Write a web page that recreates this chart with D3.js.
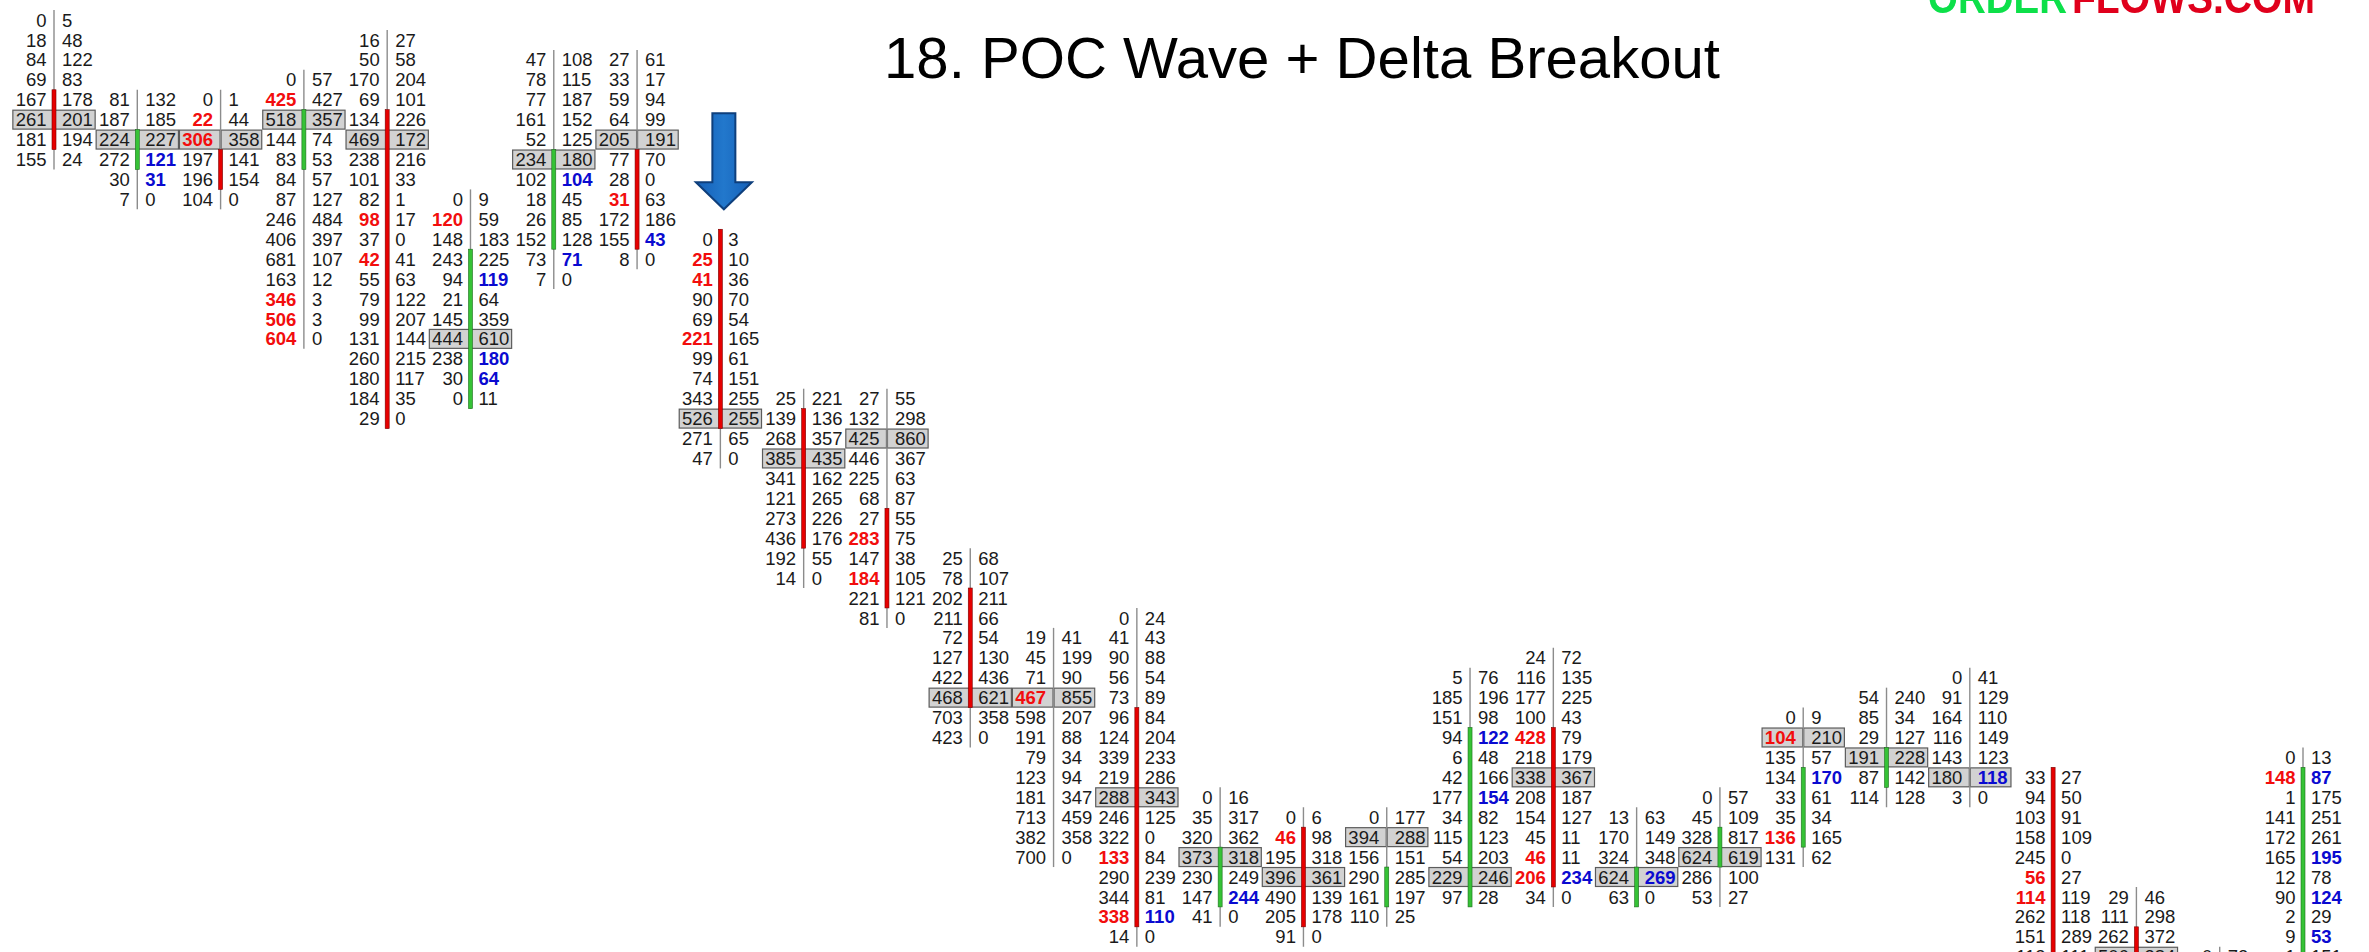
<!DOCTYPE html>
<html>
<head>
<meta charset="utf-8">
<script src="https://cdn.jsdelivr.net/npm/d3@7"></script>
<style>
  html, body { margin: 0; padding: 0; background: #fff; overflow: hidden; }
  svg { display: block; }
</style>
</head>
<body>
<svg id="chart" width="2369" height="952"></svg>
<script>
// Footprint candles: each candle has a first price row (counted from the top
// of the ladder), bid volumes on the left and ask volumes on the right.
const candleIds = d3.range(28);

const topRow = [0, 4, 4, 3, 1, 9, 2, 2, 11, 19, 19, 27, 31, 30, 39, 40, 40, 33, 32, 40, 39, 35, 34, 33, 38, 44, 47, 37];

const bidVolume = [
  [0, 18, 84, 69, 167, 261, 181, 155],
  [81, 187, 224, 272, 30, 7],
  [0, 22, 306, 197, 196, 104],
  [0, 425, 518, 144, 83, 84, 87, 246, 406, 681, 163, 346, 506, 604],
  [16, 50, 170, 69, 134, 469, 238, 101, 82, 98, 37, 42, 55, 79, 99, 131, 260, 180, 184, 29],
  [0, 120, 148, 243, 94, 21, 145, 444, 238, 30, 0],
  [47, 78, 77, 161, 52, 234, 102, 18, 26, 152, 73, 7],
  [27, 33, 59, 64, 205, 77, 28, 31, 172, 155, 8],
  [0, 25, 41, 90, 69, 221, 99, 74, 343, 526, 271, 47],
  [25, 139, 268, 385, 341, 121, 273, 436, 192, 14],
  [27, 132, 425, 446, 225, 68, 27, 283, 147, 184, 221, 81],
  [25, 78, 202, 211, 72, 127, 422, 468, 703, 423],
  [19, 45, 71, 467, 598, 191, 79, 123, 181, 713, 382, 700],
  [0, 41, 90, 56, 73, 96, 124, 339, 219, 288, 246, 322, 133, 290, 344, 338, 14],
  [0, 35, 320, 373, 230, 147, 41],
  [0, 46, 195, 396, 490, 205, 91],
  [0, 394, 156, 290, 161, 110],
  [5, 185, 151, 94, 6, 42, 177, 34, 115, 54, 229, 97],
  [24, 116, 177, 100, 428, 218, 338, 208, 154, 45, 46, 206, 34],
  [13, 170, 324, 624, 63],
  [0, 45, 328, 624, 286, 53],
  [0, 104, 135, 134, 33, 35, 136, 131],
  [54, 85, 29, 191, 87, 114],
  [0, 91, 164, 116, 143, 180, 3],
  [33, 94, 103, 158, 245, 56, 114, 262, 151, 113],
  [29, 111, 262, 506],
  [0],
  [0, 148, 1, 141, 172, 165, 12, 90, 2, 9, 1]
];

const askVolume = [
  [5, 48, 122, 83, 178, 201, 194, 24],
  [132, 185, 227, 121, 31, 0],
  [1, 44, 358, 141, 154, 0],
  [57, 427, 357, 74, 53, 57, 127, 484, 397, 107, 12, 3, 3, 0],
  [27, 58, 204, 101, 226, 172, 216, 33, 1, 17, 0, 41, 63, 122, 207, 144, 215, 117, 35, 0],
  [9, 59, 183, 225, 119, 64, 359, 610, 180, 64, 11],
  [108, 115, 187, 152, 125, 180, 104, 45, 85, 128, 71, 0],
  [61, 17, 94, 99, 191, 70, 0, 63, 186, 43, 0],
  [3, 10, 36, 70, 54, 165, 61, 151, 255, 255, 65, 0],
  [221, 136, 357, 435, 162, 265, 226, 176, 55, 0],
  [55, 298, 860, 367, 63, 87, 55, 75, 38, 105, 121, 0],
  [68, 107, 211, 66, 54, 130, 436, 621, 358, 0],
  [41, 199, 90, 855, 207, 88, 34, 94, 347, 459, 358, 0],
  [24, 43, 88, 54, 89, 84, 204, 233, 286, 343, 125, 0, 84, 239, 81, 110, 0],
  [16, 317, 362, 318, 249, 244, 0],
  [6, 98, 318, 361, 139, 178, 0],
  [177, 288, 151, 285, 197, 25],
  [76, 196, 98, 122, 48, 166, 154, 82, 123, 203, 246, 28],
  [72, 135, 225, 43, 79, 179, 367, 187, 127, 11, 11, 234, 0],
  [63, 149, 348, 269, 0],
  [57, 109, 817, 619, 100, 27],
  [9, 210, 57, 170, 61, 34, 165, 62],
  [240, 34, 127, 228, 142, 128],
  [41, 129, 110, 149, 123, 118, 0],
  [27, 50, 91, 109, 0, 27, 119, 118, 289, 111],
  [46, 298, 372, 384],
  [73],
  [13, 87, 175, 251, 261, 195, 78, 124, 29, 53, 151]
];

// Point-of-control row of each candle (null when it is not on screen).
const pocRow = [5, 6, 6, 5, 6, 16, 7, 6, 20, 22, 21, 34, 34, 39, 42, 43, 41, 43, 38, 43, 42, 36, 37, 38, null, 47, null, null];

// Candle bodies: first and last row, and direction.
const bodyStart = [4, 6, 7, 5, 5, 12, 7, 7, 11, 20, 25, 29, null, 35, 42, 41, 43, 36, 36, 43, 41, 38, 37, null, 38, 46, null, 38];
const bodyEnd   = [6, 7, 8, 7, 20, 19, 11, 11, 20, 26, 29, 34, null, 45, 44, 45, 44, 44, 43, 44, 42, 41, 38, null, 48, 48, null, 48];
const bodyDir   = ["down", "up", "down", "up", "down", "up", "up", "down", "down", "down", "down", "down", null,
                   "down", "up", "down", "up", "up", "down", "up", "up", "up", "up", null, "down", "down", null, "up"];

// Imbalance cells: [candle, row]
const sellImbalance = [
  [2, 5], [2, 6], [3, 4], [3, 14], [3, 15], [3, 16], [4, 10], [4, 12], [5, 10], [7, 9],
  [8, 12], [8, 13], [8, 16], [10, 26], [10, 28], [12, 34], [13, 42], [13, 45], [15, 41],
  [18, 36], [18, 42], [18, 43], [21, 36], [21, 41], [24, 43], [24, 44], [27, 38]
];
const buyImbalance = [
  [1, 7], [1, 8], [5, 13], [5, 17], [5, 18], [6, 8], [6, 12], [7, 11], [13, 45], [14, 44],
  [17, 36], [17, 39], [18, 43], [19, 43], [21, 38], [23, 38], [27, 38], [27, 42], [27, 44], [27, 46]
];

const titleText = "18. POC Wave + Delta Breakout";
const brandParts = ["ORDER", "FLOWS.COM"];

// ---------------------------------------------------------------------------
const svg = d3.select("#chart");
const W = 2369, H = 952;

const x = d3.scaleLinear().domain([0, 27]).range([54, 2303]);
const y = d3.scaleLinear().domain([0, 46]).range([20, 936.8]);
const rowH = y(1) - y(0);
const cellW = (x(1) - x(0)) / 2;

const sellSet = new Set(sellImbalance.map(d => d.join(",")));
const buySet = new Set(buyImbalance.map(d => d.join(",")));

const cells = [];
candleIds.forEach(i => {
  bidVolume[i].forEach((b, j) => {
    cells.push({ c: i, row: topRow[i] + j, bid: b, ask: askVolume[i][j] });
  });
});

const colours = {
  text: "#1a1a1a", red: "#f20d0d", blue: "#0a0ad0",
  up: "#36c236", upEdge: "#1d6e1d", down: "#e60000", downEdge: "#7a0000",
  wick: "#8c8c8c", poc: "#d2d2d2", pocEdge: "#5c5c5c"
};

// POC boxes
const pocCells = cells.filter(d => pocRow[d.c] === d.row);
const pocG = svg.append("g");
pocG.selectAll("rect.l").data(pocCells).join("rect")
  .attr("x", d => x(d.c) - cellW + 0.5).attr("y", d => y(d.row) - rowH / 2 + 0.5)
  .attr("width", cellW - 1).attr("height", rowH - 1)
  .attr("fill", colours.poc).attr("stroke", colours.pocEdge).attr("stroke-width", 1.2);
pocG.selectAll("rect.r").data(pocCells).join("rect")
  .attr("x", d => x(d.c) + 0.5).attr("y", d => y(d.row) - rowH / 2 + 0.5)
  .attr("width", cellW - 1).attr("height", rowH - 1)
  .attr("fill", colours.poc).attr("stroke", colours.pocEdge).attr("stroke-width", 1.2);

// Thin range line through each candle
svg.append("g").selectAll("line").data(candleIds).join("line")
  .attr("x1", i => x(i)).attr("x2", i => x(i))
  .attr("y1", i => y(topRow[i]) - rowH / 2)
  .attr("y2", i => y(topRow[i] + bidVolume[i].length - 1) + rowH / 2)
  .attr("stroke", colours.wick).attr("stroke-width", 1.4);

// Candle bodies
const bodies = candleIds.filter(i => bodyDir[i]);
svg.append("g").selectAll("rect").data(bodies).join("rect")
  .attr("x", i => x(i) - 2).attr("width", 4)
  .attr("y", i => y(bodyStart[i]) - rowH / 2)
  .attr("height", i => y(bodyEnd[i]) - y(bodyStart[i]) + rowH)
  .attr("fill", i => bodyDir[i] === "up" ? colours.up : colours.down)
  .attr("stroke", i => bodyDir[i] === "up" ? colours.upEdge : colours.downEdge)
  .attr("stroke-width", 0.6);

// Volume numbers
const txt = svg.append("g")
  .attr("font-family", "'Liberation Sans', Arial, Helvetica, sans-serif")
  .attr("font-size", 18.5);

txt.selectAll("text.bid").data(cells).join("text")
  .attr("x", d => x(d.c) - 7.5).attr("y", d => y(d.row) + 6.6)
  .attr("text-anchor", "end")
  .attr("font-weight", d => sellSet.has(d.c + "," + d.row) ? "bold" : "normal")
  .attr("fill", d => sellSet.has(d.c + "," + d.row) ? colours.red : colours.text)
  .text(d => d.bid);

txt.selectAll("text.ask").data(cells).join("text")
  .attr("x", d => x(d.c) + 8).attr("y", d => y(d.row) + 6.6)
  .attr("text-anchor", "start")
  .attr("font-weight", d => buySet.has(d.c + "," + d.row) ? "bold" : "normal")
  .attr("fill", d => buySet.has(d.c + "," + d.row) ? colours.blue : colours.text)
  .text(d => d.ask);

// Signal arrow above candle 8
const ax = x(8) + 3.5, tipY = y(9.5);
const arrowPts = [
  [ax - 11.5, tipY - 96], [ax + 11.5, tipY - 96], [ax + 11.5, tipY - 27],
  [ax + 28, tipY - 27], [ax, tipY], [ax - 28, tipY - 27], [ax - 11.5, tipY - 27]
];
const grad = svg.append("defs").append("linearGradient").attr("id", "arrowFill")
  .attr("x1", 0).attr("x2", 1).attr("y1", 0).attr("y2", 0);
grad.append("stop").attr("offset", "0%").attr("stop-color", "#1560b8");
grad.append("stop").attr("offset", "50%").attr("stop-color", "#2278cc");
grad.append("stop").attr("offset", "100%").attr("stop-color", "#1560b8");
svg.append("path")
  .attr("d", d3.line()(arrowPts) + "Z")
  .attr("fill", "url(#arrowFill)").attr("stroke", "#0e3f7c").attr("stroke-width", 2)
  .attr("stroke-linejoin", "miter");

// Title
svg.append("text")
  .attr("x", 884).attr("y", 78)
  .attr("font-family", "'Liberation Sans', Arial, Helvetica, sans-serif")
  .attr("font-size", 58).attr("fill", "#000")
  .attr("textLength", 836).attr("lengthAdjust", "spacingAndGlyphs")
  .text(titleText);

// Brand mark, top right
const blur = svg.select("defs").append("filter").attr("id", "soft");
blur.append("feGaussianBlur").attr("stdDeviation", 0.7);
const brand = svg.append("g").attr("filter", "url(#soft)")
  .attr("font-family", "'Liberation Sans Narrow', 'Liberation Sans', Arial, sans-serif")
  .attr("font-weight", "bold").attr("font-size", 44);
brand.append("text").attr("x", 1928).attr("y", 13)
  .attr("textLength", 139).attr("lengthAdjust", "spacingAndGlyphs")
  .attr("fill", "#08e04a").text(brandParts[0]);
brand.append("text").attr("x", 2072).attr("y", 13)
  .attr("textLength", 243).attr("lengthAdjust", "spacingAndGlyphs")
  .attr("fill", "#e0001c").text(brandParts[1]);
</script>
</body>
</html>
